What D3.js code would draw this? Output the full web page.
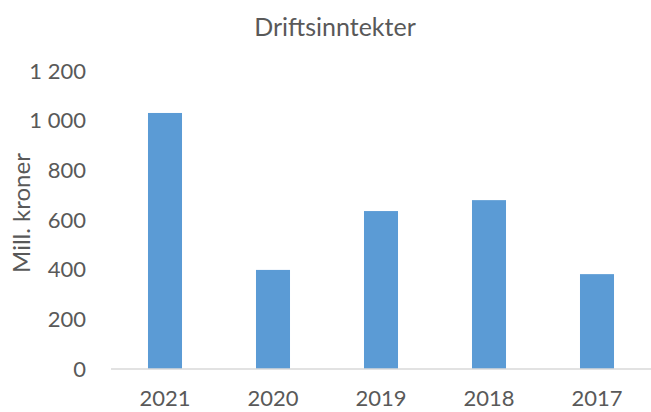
<!DOCTYPE html>
<html>
<head>
<meta charset="utf-8">
<script src="https://cdn.jsdelivr.net/npm/d3@7"></script>
<style>
  html, body { margin: 0; padding: 0; background: #fff; }
  svg { display: block; }
  text { font-family: Lato, "Open Sans", sans-serif; fill: #595959; }
</style>
</head>
<body>
<svg id="chart" width="651" height="412"></svg>
<script>
const title = "Driftsinntekter";
const yTitle = "Mill. kroner";
const categories = ["2021", "2020", "2019", "2018", "2017"];
const values = [1031, 399, 636, 680, 382];
const yTicks = [0, 200, 400, 600, 800, 1000, 1200];

const svg = d3.select("#chart");
const margin = { left: 111, right: 0, top: 71, bottom: 43 };
const W = 651, H = 412;

const x = d3.scaleBand()
  .domain(categories)
  .range([margin.left, W - margin.right])
  .paddingInner(0.685)
  .paddingOuter(0.3425);

const y = d3.scaleLinear()
  .domain([0, 1200])
  .range([369, 71]);

const fmt = v => d3.format(",")(v).replace(/,/g, " ");

// bars
svg.append("g").selectAll("rect")
  .data(values)
  .join("rect")
  .attr("x", (d, i) => x(categories[i]))
  .attr("width", x.bandwidth())
  .attr("y", d => y(d))
  .attr("height", d => y(0) - y(d))
  .attr("fill", "#5B9BD5");

// x axis
const xAxis = svg.append("g")
  .attr("transform", `translate(0,${y(0)})`)
  .call(d3.axisBottom(x).tickSize(0).tickPadding(21));
xAxis.select(".domain").attr("stroke", "#D9D9D9").attr("stroke-width", 1.3)
  .attr("d", `M${margin.left},0H${W}`);
xAxis.selectAll("text").attr("font-size", 22).attr("fill", "#595959")
  .style("font-family", "Lato, 'Open Sans', sans-serif");

// y axis
const yAxis = svg.append("g")
  .attr("transform", `translate(${margin.left},0)`)
  .call(d3.axisLeft(y).tickValues(yTicks).tickFormat(fmt).tickSize(0).tickPadding(25));
yAxis.select(".domain").remove();
yAxis.selectAll("text").attr("font-size", 22).attr("fill", "#595959")
  .style("font-family", "Lato, 'Open Sans', sans-serif");

// title
svg.append("text")
  .attr("x", 335).attr("y", 30)
  .attr("text-anchor", "middle")
  .attr("dominant-baseline", "middle")
  .attr("font-size", 25)
  .text(title);

// y title
svg.append("text")
  .attr("transform", `translate(24,213) rotate(-90)`)
  .attr("text-anchor", "middle")
  .attr("dominant-baseline", "middle")
  .attr("font-size", 24)
  .text(yTitle);
</script>
</body>
</html>
